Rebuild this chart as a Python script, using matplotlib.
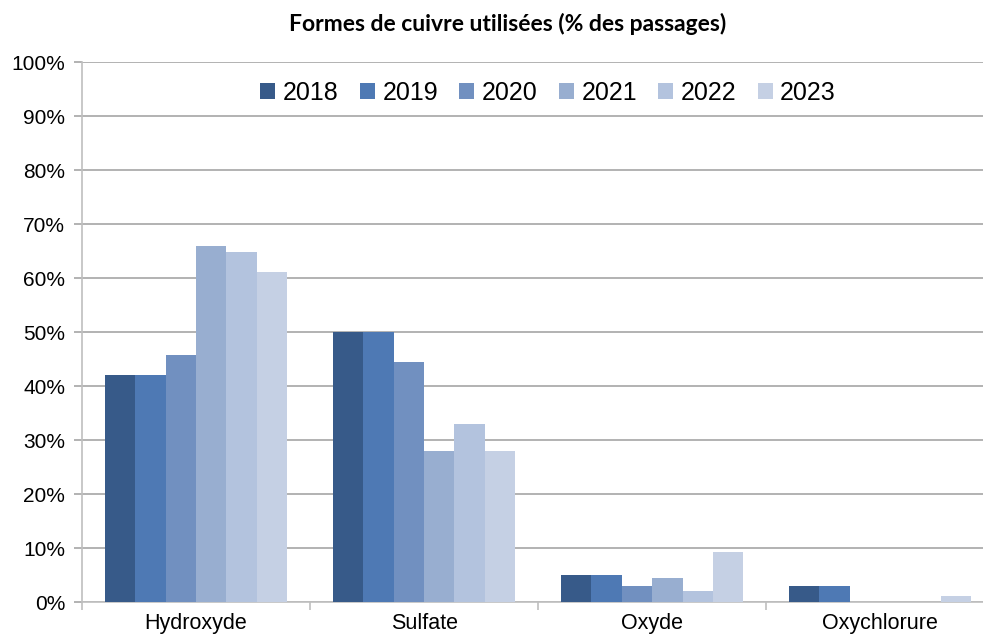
import numpy as np
import matplotlib
matplotlib.use("Agg")
from matplotlib import pyplot as plt
from matplotlib.ticker import PercentFormatter

# ==================== Data ====================
categories = ["Hydroxyde", "Sulfate", "Oxyde", "Oxychlorure"]
years = ["2018", "2019", "2020", "2021", "2022", "2023"]
values_2018 = [42, 50, 5, 3]
values_2019 = [42, 50, 5, 3]
values_2020 = [45.7, 44.5, 3, 0]
values_2021 = [66, 28, 4.5, 0]
values_2022 = [64.8, 33, 2, 0]
values_2023 = [61.2, 28, 9.2, 1.1]
series = [values_2018, values_2019, values_2020, values_2021, values_2022, values_2023]
colors = ["#375A89", "#4E79B4", "#7190C0", "#98AED0", "#B3C3DE", "#C5D0E4"]

plt.rcParams["font.family"] = ["Liberation Sans", "DejaVu Sans"]

fig = plt.figure(figsize=(9.83, 6.37), dpi=100)
ax = fig.add_axes([0.0834, 0.0549, 0.928, 0.8477])

x = np.arange(len(categories))
bar_w = 0.8 / len(years)
for i, (year, vals) in enumerate(zip(years, series)):
    offset = (i - (len(years) - 1) / 2) * bar_w
    ax.bar(x + offset, vals, width=bar_w, color=colors[i], label=year, zorder=3)

ax.set_xlim(-0.5, len(categories) - 0.5)
ax.set_ylim(0, 100)
ax.set_yticks(np.arange(0, 101, 10))
ax.yaxis.set_major_formatter(PercentFormatter(decimals=0))
ax.grid(axis="y", color="#A6A6A6", linewidth=1.2, zorder=0)

# category labels in the middle, tick marks on the boundaries
ax.set_xticks(x)
ax.set_xticklabels(categories)
ax.set_xticks(np.arange(-0.5, len(categories)), minor=True)
ax.tick_params(axis="x", which="major", length=0, pad=8, labelsize=15.5)
ax.tick_params(axis="x", which="minor", length=6, color="#BFBFBF", width=1.2)
ax.tick_params(axis="y", length=6, color="#A6A6A6", width=1.2, pad=6, labelsize=15)

for side in ["top", "right"]:
    ax.spines[side].set_visible(False)
ax.spines["left"].set_color("#BFBFBF")
ax.spines["left"].set_linewidth(1.2)
ax.spines["bottom"].set_color("#BFBFBF")
ax.spines["bottom"].set_linewidth(1.2)

ax.legend(loc="upper center", bbox_to_anchor=(0.511, 1.007), ncol=6, frameon=False,
          fontsize=18, handlelength=0.6, handleheight=0.6, handletextpad=0.3,
          columnspacing=0.85)

fig.text(0.516, 0.963, "Formes de cuivre utilisées (% des passages)", ha="center",
         va="center", fontsize=16.5, fontweight="bold", family=["Lato", "DejaVu Sans"])

plt.savefig("out.png", dpi=100)
